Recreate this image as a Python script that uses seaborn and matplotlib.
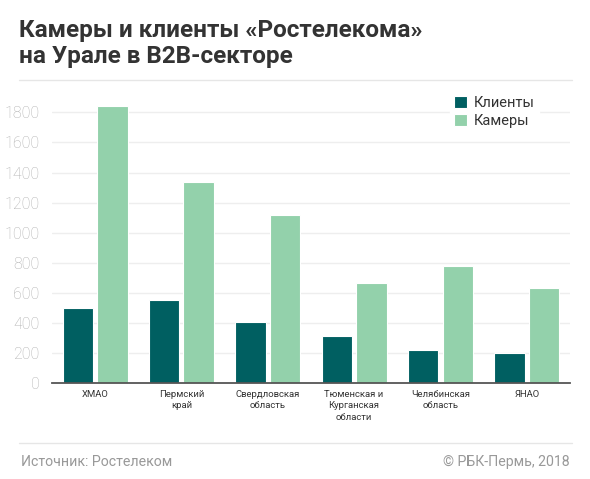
import pandas as pd
import numpy as np
import matplotlib
matplotlib.use("Agg")
import matplotlib.pyplot as plt
import seaborn as sns

# Данные
regions = ["ХМАО", "Пермский\nкрай", "Свердловская\nобласть",
           "Тюменская и\nКурганская\nобласти", "Челябинская\nобласть", "ЯНАО"]
clients = [500, 555, 405, 312, 220, 200]
cameras = [1845, 1340, 1115, 667, 780, 630]
series_names = ["Клиенты", "Камеры"]
yticks = [0, 200, 400, 600, 800, 1000, 1200, 1400, 1600, 1800]

df = pd.DataFrame({
    "region": regions * 2,
    "value": clients + cameras,
    "series": [series_names[0]] * len(regions) + [series_names[1]] * len(regions),
})

sns.set_theme(style="white")
plt.rcParams["font.family"] = ["Roboto", "DejaVu Sans"]

fig = plt.figure(figsize=(5.9, 4.79), dpi=100)
ax = fig.add_axes([0.088, 0.2004, 0.878, 0.5963])

palette = {"Клиенты": "#005f61", "Камеры": "#93d1ab"}
sns.barplot(data=df, x="region", y="value", hue="series", palette=palette,
            width=0.8, gap=0.12, edgecolor="white", linewidth=0.8,
            saturation=1, ax=ax, zorder=3)

ax.set_xlim(-0.5, len(regions) - 0.5)
ax.set_ylim(0, 1900)
ax.set_yticks(yticks)
ax.set_yticklabels([str(t) for t in yticks], color="#b0b0b0", fontsize=11.5,
                   fontweight="light")
ax.set_xticks(range(len(regions)))
ax.set_xticklabels(regions, fontsize=6.8, color="#333333", linespacing=1.35)
ax.tick_params(axis="y", length=0, pad=9)
ax.tick_params(axis="x", length=0, pad=5)
ax.set_xlabel("")
ax.set_ylabel("")

ax.grid(axis="y", color="#eeeeee", linewidth=1, zorder=0)
for s in ["top", "right", "left"]:
    ax.spines[s].set_visible(False)
ax.spines["bottom"].set_color("#555555")
ax.spines["bottom"].set_linewidth(1.3)
ax.spines["bottom"].set_zorder(4)

leg = ax.legend(loc="upper right", bbox_to_anchor=(0.955, 1.045), frameon=True,
                fontsize=10.5, handlelength=0.85, handleheight=0.85,
                handletextpad=0.5, labelspacing=0.25, borderpad=0.3)
leg.get_frame().set_facecolor("white")
leg.get_frame().set_edgecolor("white")
leg.get_frame().set_alpha(1)
leg.set_zorder(5)
for t in leg.get_texts():
    t.set_color("#333333")

# Заголовок
fig.text(0.032, 1 - 37 / 479, "Камеры и клиенты «Ростелекома»",
         fontsize=17.5, fontweight="bold", color="#333333", va="baseline")
fig.text(0.032, 1 - 63.5 / 479, "на Урале в B2B-секторе",
         fontsize=17.5, fontweight="bold", color="#333333", va="baseline")
fig.add_artist(plt.Line2D([0.032, 0.97], [1 - 79.5 / 479] * 2, color="#e6e6e6",
                          linewidth=1))

# Подвал
fig.add_artist(plt.Line2D([0.032, 0.97], [1 - 443 / 479] * 2, color="#e6e6e6",
                          linewidth=1))
fig.text(0.035, 1 - 462 / 479, "Источник: Ростелеком", fontsize=10.2,
         color="#999999", va="center")
fig.text(0.965, 1 - 462 / 479, "© РБК-Пермь, 2018", fontsize=10.2,
         color="#999999", va="center", ha="right")

fig.savefig("out.png", dpi=100)
